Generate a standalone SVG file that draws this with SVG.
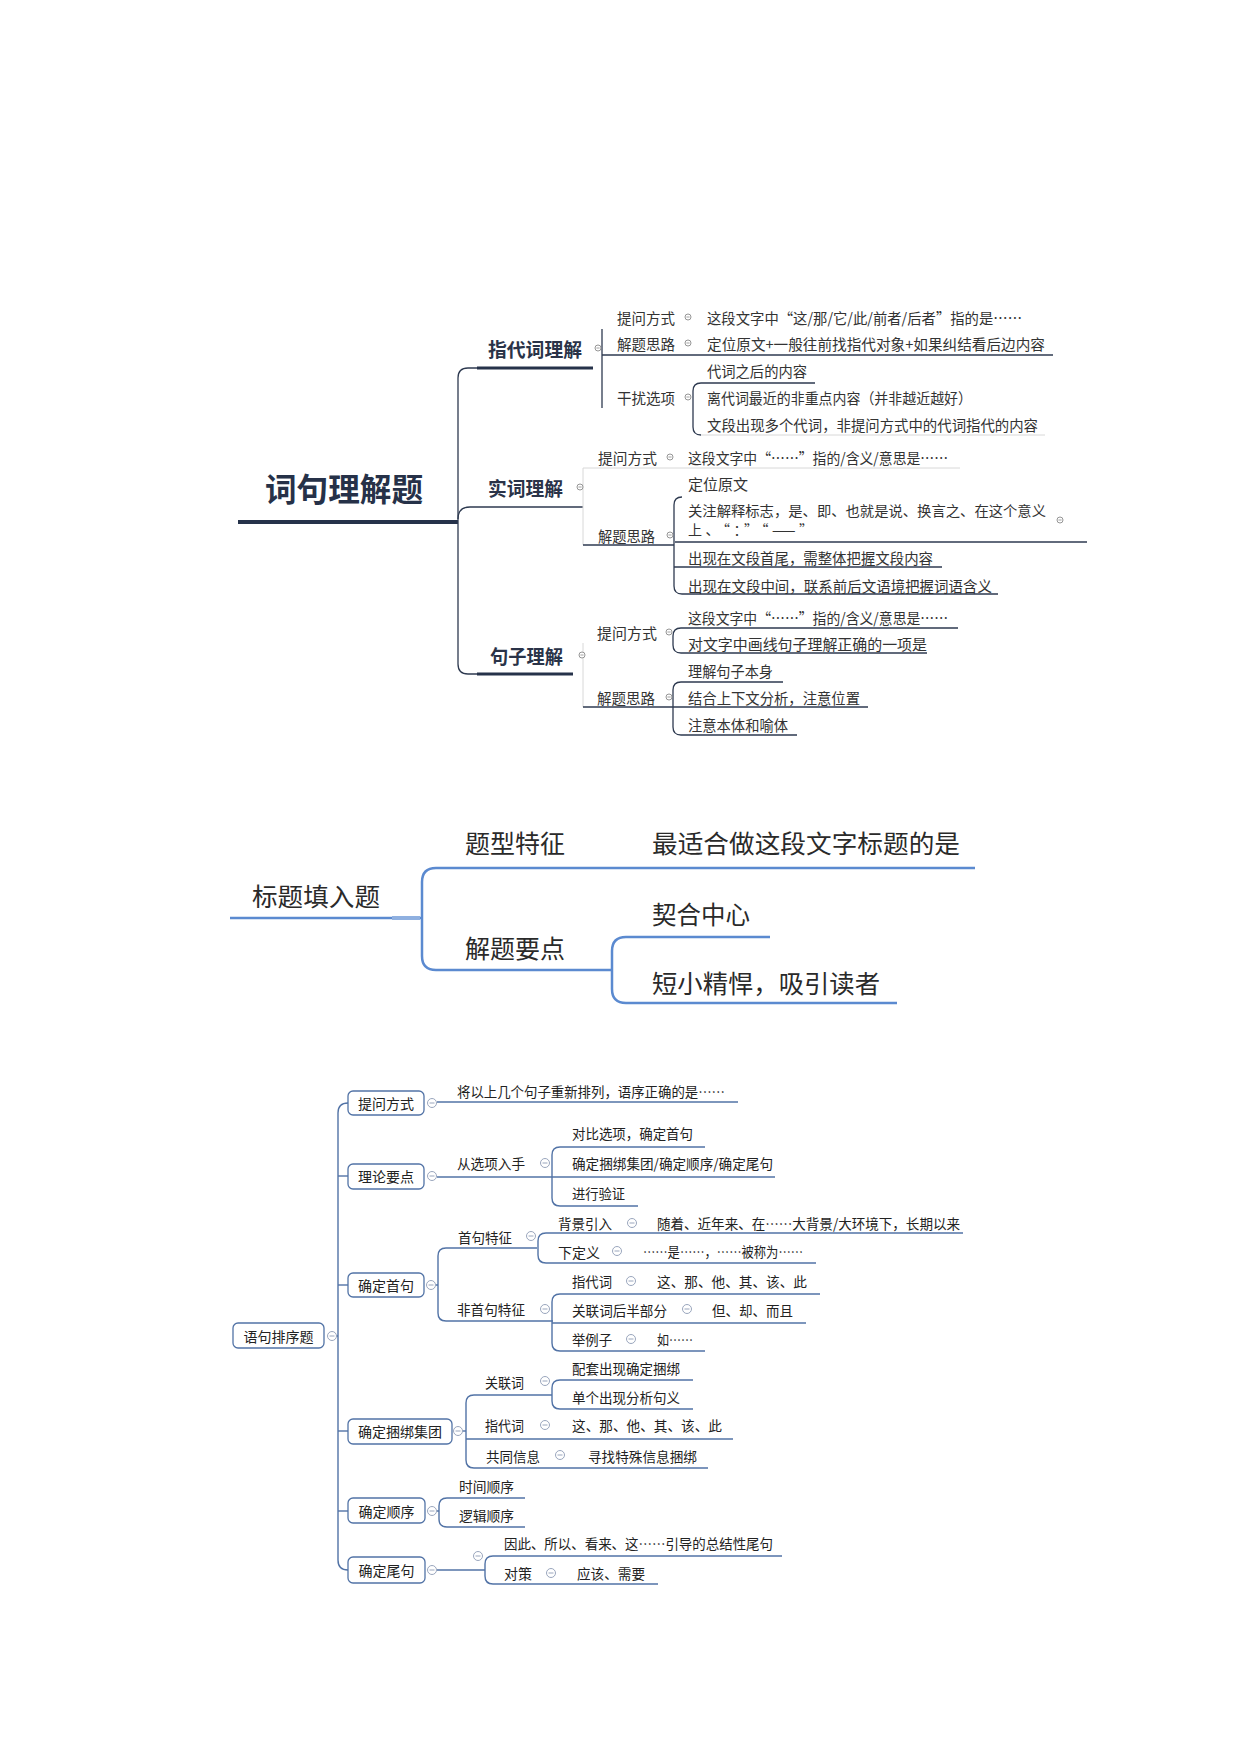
<svg xmlns="http://www.w3.org/2000/svg" width="1240" height="1754" viewBox="0 0 1240 1754">
<style>
text{font-family:"Noto Sans CJK SC","Noto Sans",sans-serif;dominant-baseline:central}
.t1{font-size:15px;fill:#333}
.t1s{font-size:14px;fill:#333}
.b1{font-size:19px;font-weight:bold;fill:#2a3348}
.title{font-size:32px;font-weight:bold;fill:#263148}
.t2{font-size:25px;fill:#2a2a2a}
.t3{font-size:14px;fill:#222}
.c3{text-anchor:middle}
.dk{fill:none;stroke:#2e3a50;stroke-width:1.3}
.dkf{fill:none;stroke:#d8d8d8;stroke-width:1}
.thick{fill:none;stroke:#26324a;stroke-width:3}
.bl{fill:none;stroke:#5b8ad0;stroke-width:2.5}
.l3{fill:none;stroke:#5273a6;stroke-width:1.4}
.box{fill:#fff;stroke:#5273a6;stroke-width:1.3}
.cs{fill:#fff;stroke:#8a8a8a;stroke-width:0.9}
.cb{fill:#fff;stroke:#9aa6bd;stroke-width:1}
</style>
<defs>
<g id="m1"><circle r="3" class="cs"/><line x1="-1.6" y1="0" x2="1.6" y2="0" stroke="#8a8a8a" stroke-width="0.8"/></g>
<g id="m3"><circle r="4.5" class="cb"/><line x1="-2.5" y1="0" x2="2.5" y2="0" stroke="#9aa6bd" stroke-width="1"/></g>
</defs>
<rect width="1240" height="1754" fill="#fff"/>

<g id="connectors">
<!-- section 1 -->
<line x1="238" y1="522" x2="458" y2="522" stroke="#26324a" stroke-width="4"/>
<path class="dk" d="M477,368 H468 Q458,368 458,378 V664 Q458,674 468,674 H477"/>
<path class="dk" d="M458,519 Q458,507 470,507 H583"/>
<line class="thick" x1="477" y1="368" x2="593" y2="368"/>
<line class="thick" x1="477" y1="674" x2="573" y2="674"/>
<line class="dk" x1="602" y1="329" x2="602" y2="408"/>
<line class="dk" x1="602" y1="355" x2="1053" y2="355"/>
<path class="dk" d="M815,383 H701 Q693,383 693,391 V427 Q693,435 701,435"/>
<line class="dkf" x1="701" y1="435" x2="1045" y2="435"/>
<line class="dkf" x1="583" y1="468" x2="960" y2="468"/>
<line class="dkf" x1="583" y1="468" x2="583" y2="545"/>
<line class="dk" x1="583" y1="545" x2="674" y2="545"/>
<path class="dk" d="M682,497 Q674,497 674,505 V586 Q674,594 682,594 H998"/>
<line class="dk" x1="675" y1="542" x2="1087" y2="542"/>
<line class="dk" x1="674" y1="567" x2="942" y2="567"/>
<line class="dkf" x1="583" y1="643" x2="583" y2="707"/>
<path class="dk" d="M958,628 H681 Q673,628 673,636 V645 Q673,653 681,653 H927"/>
<line class="dk" x1="583" y1="707" x2="868" y2="707"/>
<path class="dk" d="M783,682 H681 Q673,682 673,690 V727 Q673,735 681,735 H797"/>
<!-- section 2 -->
<line class="bl" x1="230" y1="918" x2="422" y2="918"/>
<line x1="392" y1="918" x2="420" y2="918" stroke="#8fb0e0" stroke-width="4"/>
<path class="bl" d="M975,868 H436 Q422,868 422,882 V956 Q422,970 436,970 H612"/>
<path class="bl" d="M770,937 H626 Q612,937 612,951 V989 Q612,1003 626,1003 H897"/>
<!-- section 3 -->
<path class="l3" d="M348,1103 Q338,1103 338,1113 V1560 Q338,1570 348,1570"/>
<line class="l3" x1="338" y1="1176" x2="348" y2="1176"/>
<line class="l3" x1="338" y1="1285" x2="348" y2="1285"/>
<line class="l3" x1="338" y1="1431" x2="348" y2="1431"/>
<line class="l3" x1="338" y1="1511" x2="348" y2="1511"/>
<line class="l3" x1="336" y1="1336" x2="338" y2="1336"/>
<line class="l3" x1="437" y1="1102" x2="738" y2="1102"/>
<line class="l3" x1="437" y1="1177" x2="775" y2="1177"/>
<path class="l3" d="M705,1147 H560 Q552,1147 552,1155 V1198 Q552,1206 560,1206 H638"/>
<line class="l3" x1="436" y1="1285" x2="438" y2="1285"/>
<path class="l3" d="M537,1248 H446 Q438,1248 438,1256 V1313 Q438,1321 446,1321 H553"/>
<path class="l3" d="M963,1233 H546 Q538,1233 538,1241 V1255 Q538,1263 546,1263 H816"/>
<path class="l3" d="M820,1294 H560 Q552,1294 552,1302 V1343 Q552,1351 560,1351 H705"/>
<line class="l3" x1="552" y1="1323" x2="806" y2="1323" stroke-width="2"/>
<line class="l3" x1="462" y1="1431" x2="466" y2="1431"/>
<path class="l3" d="M552,1395 H474 Q466,1395 466,1403 V1460 Q466,1468 474,1468 H708"/>
<path class="l3" d="M693,1380 H560 Q552,1380 552,1388 V1401 Q552,1409 560,1409 H693"/>
<line class="l3" x1="466" y1="1439" x2="733" y2="1439" stroke-width="2.2"/>
<line class="l3" x1="437" y1="1511" x2="439" y2="1511"/>
<path class="l3" d="M525,1498 H447 Q439,1498 439,1506 V1519 Q439,1527 447,1527 H525"/>
<line class="l3" x1="437" y1="1570" x2="485" y2="1570"/>
<path class="l3" d="M782,1556 H493 Q485,1556 485,1564 V1576 Q485,1584 493,1584 H658"/>
</g>

<!-- Section 1 -->
<g id="n-title"><text class="title" x="265" y="487" textLength="158" lengthAdjust="spacingAndGlyphs">词句理解题</text></g>
<g id="n-zdc"><text class="b1" x="488" y="348" textLength="94" lengthAdjust="spacingAndGlyphs">指代词理解</text><use href="#m1" x="598" y="348"/></g>
<g id="n-zdc-twfs"><text class="t1" x="617" y="317" textLength="58" lengthAdjust="spacingAndGlyphs">提问方式</text><use href="#m1" x="688" y="317"/></g>
<g id="n-zdc-twfs-1"><text class="t1" x="707" y="317" textLength="315" lengthAdjust="spacingAndGlyphs">这段文字中“这/那/它/此/前者/后者”指的是……</text></g>
<g id="n-zdc-jtsl"><text class="t1" x="617" y="343" textLength="58" lengthAdjust="spacingAndGlyphs">解题思路</text><use href="#m1" x="688" y="343"/></g>
<g id="n-zdc-jtsl-1"><text class="t1" x="707" y="343" textLength="338" lengthAdjust="spacingAndGlyphs">定位原文+一般往前找指代对象+如果纠结看后边内容</text></g>
<g id="n-zdc-grxx"><text class="t1" x="617" y="397" textLength="58" lengthAdjust="spacingAndGlyphs">干扰选项</text><use href="#m1" x="688" y="397"/></g>
<g id="n-zdc-grxx-1"><text class="t1" x="707" y="370" textLength="100" lengthAdjust="spacingAndGlyphs">代词之后的内容</text></g>
<g id="n-zdc-grxx-2"><text class="t1" x="707" y="397" textLength="265" lengthAdjust="spacingAndGlyphs">离代词最近的非重点内容（并非越近越好）</text></g>
<g id="n-zdc-grxx-3"><text class="t1" x="707" y="424" textLength="331" lengthAdjust="spacingAndGlyphs">文段出现多个代词，非提问方式中的代词指代的内容</text></g>

<g id="n-scl"><text class="b1" x="488" y="487" textLength="75" lengthAdjust="spacingAndGlyphs">实词理解</text><use href="#m1" x="580" y="487"/></g>
<g id="n-scl-twfs"><text class="t1" x="598" y="457" textLength="59" lengthAdjust="spacingAndGlyphs">提问方式</text><use href="#m1" x="670" y="457"/></g>
<g id="n-scl-twfs-1"><text class="t1" x="688" y="457" textLength="260" lengthAdjust="spacingAndGlyphs">这段文字中“……”指的/含义/意思是……</text></g>
<g id="n-scl-jtsl"><text class="t1" x="598" y="535" textLength="57" lengthAdjust="spacingAndGlyphs">解题思路</text><use href="#m1" x="670" y="535"/></g>
<g id="n-scl-jtsl-1"><text class="t1" x="688" y="483">定位原文</text></g>
<g id="n-scl-jtsl-2"><text class="t1s" x="688" y="510" textLength="358" lengthAdjust="spacingAndGlyphs">关注解释标志，是、即、也就是说、换言之、在这个意义</text><text class="t1s" x="688" y="529" textLength="125" lengthAdjust="spacing">上、“：”“——”</text><use href="#m1" x="1060" y="520"/></g>
<g id="n-scl-jtsl-3"><text class="t1" x="688" y="557" textLength="245" lengthAdjust="spacingAndGlyphs">出现在文段首尾，需整体把握文段内容</text></g>
<g id="n-scl-jtsl-4"><text class="t1" x="688" y="585" textLength="304" lengthAdjust="spacingAndGlyphs">出现在文段中间，联系前后文语境把握词语含义</text></g>

<g id="n-jzl"><text class="b1" x="490" y="655" textLength="73" lengthAdjust="spacingAndGlyphs">句子理解</text><use href="#m1" x="582" y="655"/></g>
<g id="n-jzl-twfs"><text class="t1" x="597" y="632" textLength="60" lengthAdjust="spacingAndGlyphs">提问方式</text><use href="#m1" x="669" y="632"/></g>
<g id="n-jzl-twfs-1"><text class="t1" x="688" y="617" textLength="260" lengthAdjust="spacingAndGlyphs">这段文字中“……”指的/含义/意思是……</text></g>
<g id="n-jzl-twfs-2"><text class="t1" x="688" y="643" textLength="239" lengthAdjust="spacingAndGlyphs">对文字中画线句子理解正确的一项是</text></g>
<g id="n-jzl-jtsl"><text class="t1" x="597" y="697" textLength="58" lengthAdjust="spacingAndGlyphs">解题思路</text><use href="#m1" x="669" y="697"/></g>
<g id="n-jzl-jtsl-1"><text class="t1" x="688" y="670" textLength="85" lengthAdjust="spacingAndGlyphs">理解句子本身</text></g>
<g id="n-jzl-jtsl-2"><text class="t1" x="688" y="697" textLength="172" lengthAdjust="spacingAndGlyphs">结合上下文分析，注意位置</text></g>
<g id="n-jzl-jtsl-3"><text class="t1" x="688" y="724" textLength="100" lengthAdjust="spacingAndGlyphs">注意本体和喻体</text></g>

<!-- Section 2 -->
<g id="n-btt"><text class="t2" x="252" y="895" textLength="128" lengthAdjust="spacingAndGlyphs">标题填入题</text></g>
<g id="n-btt-txtz"><text class="t2" x="465" y="842" textLength="100" lengthAdjust="spacingAndGlyphs">题型特征</text></g>
<g id="n-btt-txtz-1"><text class="t2" x="652" y="842" textLength="308" lengthAdjust="spacingAndGlyphs">最适合做这段文字标题的是</text></g>
<g id="n-btt-jtyd"><text class="t2" x="465" y="947" textLength="100" lengthAdjust="spacingAndGlyphs">解题要点</text></g>
<g id="n-btt-jtyd-1"><text class="t2" x="652" y="913" textLength="98" lengthAdjust="spacingAndGlyphs">契合中心</text></g>
<g id="n-btt-jtyd-2"><text class="t2" x="652" y="982" textLength="228" lengthAdjust="spacingAndGlyphs">短小精悍，吸引读者</text></g>

<!-- Section 3 -->
<g id="n-root3"><rect class="box" x="233" y="1323" width="91" height="25" rx="5"/><text class="t3 c3" x="278.5" y="1336">语句排序题</text><use href="#m3" x="332" y="1336"/></g>
<g id="n-twfs3"><rect class="box" x="348" y="1091" width="76" height="24" rx="5"/><text class="t3 c3" x="386" y="1103">提问方式</text><use href="#m3" x="432" y="1103"/></g>
<g id="n-twfs3-1"><text class="t3" x="457" y="1091" textLength="268" lengthAdjust="spacingAndGlyphs">将以上几个句子重新排列，语序正确的是……</text></g>
<g id="n-llyd"><rect class="box" x="348" y="1164" width="76" height="25" rx="5"/><text class="t3 c3" x="386" y="1176">理论要点</text><use href="#m3" x="432" y="1176"/></g>
<g id="n-cxxrs"><text class="t3" x="457" y="1163" textLength="68" lengthAdjust="spacingAndGlyphs">从选项入手</text><use href="#m3" x="545" y="1163"/></g>
<g id="n-cxxrs-1"><text class="t3" x="572" y="1133" textLength="121" lengthAdjust="spacingAndGlyphs">对比选项，确定首句</text></g>
<g id="n-cxxrs-2"><text class="t3" x="572" y="1163" textLength="201" lengthAdjust="spacingAndGlyphs">确定捆绑集团/确定顺序/确定尾句</text></g>
<g id="n-cxxrs-3"><text class="t3" x="572" y="1193" textLength="53" lengthAdjust="spacingAndGlyphs">进行验证</text></g>

<g id="n-qdsj"><rect class="box" x="348" y="1273" width="76" height="24" rx="5"/><text class="t3 c3" x="386" y="1285">确定首句</text><use href="#m3" x="431" y="1285"/></g>
<g id="n-sjtz"><text class="t3" x="458" y="1237" textLength="54" lengthAdjust="spacingAndGlyphs">首句特征</text><use href="#m3" x="531" y="1236"/></g>
<g id="n-bjyr"><text class="t3" x="558" y="1223" textLength="54" lengthAdjust="spacingAndGlyphs">背景引入</text><use href="#m3" x="632" y="1223"/></g>
<g id="n-bjyr-1"><text class="t3" x="657" y="1223" textLength="303" lengthAdjust="spacingAndGlyphs">随着、近年来、在……大背景/大环境下，长期以来</text></g>
<g id="n-xdy"><text class="t3" x="558" y="1252" textLength="42" lengthAdjust="spacingAndGlyphs">下定义</text><use href="#m3" x="617" y="1251"/></g>
<g id="n-xdy-1"><text class="t3" x="643" y="1251" textLength="160" lengthAdjust="spacingAndGlyphs">……是……，……被称为……</text></g>
<g id="n-fsjtz"><text class="t3" x="457" y="1309" textLength="68" lengthAdjust="spacingAndGlyphs">非首句特征</text><use href="#m3" x="545" y="1309"/></g>
<g id="n-zdc3"><text class="t3" x="572" y="1281" textLength="40" lengthAdjust="spacingAndGlyphs">指代词</text><use href="#m3" x="631" y="1281"/></g>
<g id="n-zdc3-1"><text class="t3" x="657" y="1281" textLength="150" lengthAdjust="spacingAndGlyphs">这、那、他、其、该、此</text></g>
<g id="n-glchbf"><text class="t3" x="572" y="1310" textLength="95" lengthAdjust="spacingAndGlyphs">关联词后半部分</text><use href="#m3" x="687" y="1309"/></g>
<g id="n-glchbf-1"><text class="t3" x="712" y="1310" textLength="81" lengthAdjust="spacingAndGlyphs">但、却、而且</text></g>
<g id="n-jlz"><text class="t3" x="572" y="1339" textLength="40" lengthAdjust="spacingAndGlyphs">举例子</text><use href="#m3" x="631" y="1339"/></g>
<g id="n-jlz-1"><text class="t3" x="657" y="1339" textLength="36" lengthAdjust="spacingAndGlyphs">如……</text></g>

<g id="n-qdkbjt"><rect class="box" x="348" y="1419" width="104" height="25" rx="5"/><text class="t3 c3" x="400" y="1431">确定捆绑集团</text><use href="#m3" x="458" y="1431"/></g>
<g id="n-glc"><text class="t3" x="485" y="1382" textLength="39" lengthAdjust="spacingAndGlyphs">关联词</text><use href="#m3" x="545" y="1381"/></g>
<g id="n-glc-1"><text class="t3" x="572" y="1368" textLength="108" lengthAdjust="spacingAndGlyphs">配套出现确定捆绑</text></g>
<g id="n-glc-2"><text class="t3" x="572" y="1397" textLength="108" lengthAdjust="spacingAndGlyphs">单个出现分析句义</text></g>
<g id="n-zdc4"><text class="t3" x="485" y="1425" textLength="39" lengthAdjust="spacingAndGlyphs">指代词</text><use href="#m3" x="545" y="1425"/></g>
<g id="n-zdc4-1"><text class="t3" x="572" y="1425" textLength="150" lengthAdjust="spacingAndGlyphs">这、那、他、其、该、此</text></g>
<g id="n-gtxx"><text class="t3" x="486" y="1456" textLength="54" lengthAdjust="spacingAndGlyphs">共同信息</text><use href="#m3" x="560" y="1455"/></g>
<g id="n-gtxx-1"><text class="t3" x="588" y="1456" textLength="109" lengthAdjust="spacingAndGlyphs">寻找特殊信息捆绑</text></g>

<g id="n-qdsx"><rect class="box" x="348" y="1498" width="77" height="25" rx="5"/><text class="t3 c3" x="386.5" y="1511">确定顺序</text><use href="#m3" x="432" y="1511"/></g>
<g id="n-sjsx"><text class="t3" x="459" y="1486" textLength="55" lengthAdjust="spacingAndGlyphs">时间顺序</text></g>
<g id="n-ljsx"><text class="t3" x="459" y="1515" textLength="55" lengthAdjust="spacingAndGlyphs">逻辑顺序</text></g>

<g id="n-qdwj"><rect class="box" x="348" y="1557" width="77" height="26" rx="5"/><text class="t3 c3" x="386.5" y="1570">确定尾句</text><use href="#m3" x="432" y="1570"/><use href="#m3" x="478" y="1556"/></g>
<g id="n-qdwj-1"><text class="t3" x="504" y="1543" textLength="269" lengthAdjust="spacingAndGlyphs">因此、所以、看来、这……引导的总结性尾句</text></g>
<g id="n-dc"><text class="t3" x="504" y="1573" textLength="28" lengthAdjust="spacingAndGlyphs">对策</text><use href="#m3" x="551" y="1573"/></g>
<g id="n-dc-1"><text class="t3" x="577" y="1573" textLength="68" lengthAdjust="spacingAndGlyphs">应该、需要</text></g>
</svg>
